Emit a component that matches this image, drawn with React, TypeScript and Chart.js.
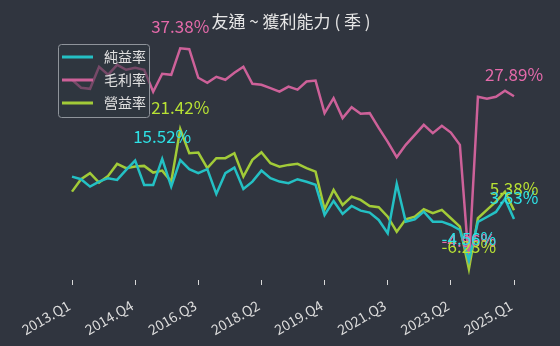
import React, { useEffect, useRef } from 'react';
import { Chart, registerables } from 'chart.js';

Chart.register(...registerables);

const chartTitle = '友通 ~ 獲利能力 ( 季 )';
const seriesNames = ['純益率', '毛利率', '營益率'];

const quarters = [
  '2013.Q1', '2013.Q2', '2013.Q3', '2013.Q4', '2014.Q1', '2014.Q2', '2014.Q3',
  '2014.Q4', '2015.Q1', '2015.Q2', '2015.Q3', '2015.Q4', '2016.Q1', '2016.Q2',
  '2016.Q3', '2016.Q4', '2017.Q1', '2017.Q2', '2017.Q3', '2017.Q4', '2018.Q1',
  '2018.Q2', '2018.Q3', '2018.Q4', '2019.Q1', '2019.Q2', '2019.Q3', '2019.Q3 ',
  '2019.Q4', '2020.Q1', '2020.Q2', '2020.Q3', '2020.Q4', '2021.Q1', '2021.Q2',
  '2021.Q3', '2021.Q4', '2022.Q1', '2022.Q2', '2022.Q3', '2022.Q4', '2023.Q1',
  '2023.Q2', '2023.Q3', '2023.Q4', '2024.Q1', '2024.Q2', '2024.Q3', '2024.Q4',
  '2025.Q1',
];

const netMargin = [
  12.03, 11.51, 10.05, 11.04, 11.71, 11.37, 13.35, 15.19, 10.38, 10.38,
  15.52, 10.05, 15.3, 13.49, 12.7, 13.49, 8.6, 12.7, 13.81, 9.59,
  11.04, 13.21, 11.71, 11.04, 10.72, 11.51, 11.0, 10.4, 4.45, 7.22,
  4.65, 6.23, 5.3, 4.91, 3.46, 0.83, 10.58, 3.12, 3.6, 5.1,
  3.12, 3.12, 2.47, 1.48, -4.56, 3.07, 4.05, 5.04, 7.62, 3.63,
];

const grossMargin = [
  31.15, 29.57, 29.37, 33.72, 32.14, 34.11, 33.13, 33.52, 33.13, 28.78,
  32.34, 32.14, 37.38, 37.2, 31.55, 30.56, 31.74, 31.15, 32.54, 33.72,
  30.36, 30.16, 29.5, 28.8, 29.8, 29.2, 30.8, 31.0, 24.56, 27.53,
  23.58, 25.75, 24.43, 24.56, 21.66, 18.9, 15.86, 18.3, 20.27, 22.25,
  20.61, 22.05, 20.73, 18.3, -4.96, 27.79, 27.39, 27.79, 28.98, 27.89,
];

const operatingMargin = [
  9.06, 11.51, 12.7, 10.84, 12.16, 14.54, 13.69, 14.0, 14.14, 12.82,
  13.21, 11.04, 21.42, 16.65, 16.77, 13.69, 15.66, 15.66, 16.65, 12.03,
  15.33, 16.85, 14.68, 14.0, 14.34, 14.54, 13.7, 13.0, 5.58, 9.39,
  6.43, 8.07, 7.42, 6.23, 5.97, 4.11, 1.15, 3.6, 4.11, 5.58,
  4.79, 5.44, 3.8, 2.14, -6.23, 3.8, 5.44, 7.08, 9.06, 5.38,
];

const labelEvery = 7;
const yMin = -8.4;
const yMax = 40;

export default function App() {
  const ref = useRef<HTMLCanvasElement>(null);

  useEffect(() => {
    const canvas = ref.current;
    if (!canvas) return;
    const font = '"Noto Sans CJK TC", "Noto Sans", sans-serif';
    const lineColors = ['#24c0c4', '#cd6199', '#a2cb38'];
    const textColors = ['#2ee2e6', '#e46aaa', '#b8e234'];
    const seriesData = [netMargin, grossMargin, operatingMargin];

    const overlay = {
      id: 'overlay',
      afterDatasetsDraw(chart: any) {
        const ctx = chart.ctx as CanvasRenderingContext2D;
        ctx.save();
        ctx.font = `17px ${font}`;
        ctx.textAlign = 'center';
        ctx.textBaseline = 'middle';
        for (const di of [1, 2, 0]) {
          const data = seriesData[di];
          const meta = chart.getDatasetMeta(di);
          let maxI = 0;
          let minI = 0;
          data.forEach((v, i) => {
            if (v > data[maxI]) maxI = i;
            if (v < data[minI]) minI = i;
          });
          ctx.fillStyle = textColors[di];
          for (const i of [maxI, minI, data.length - 1]) {
            const p = meta.data[i];
            ctx.fillText(data[i].toFixed(2) + '%', p.x, p.y - 22);
          }
        }
        ctx.restore();
      },
      afterDraw(chart: any) {
        const ctx = chart.ctx as CanvasRenderingContext2D;
        ctx.save();
        // title
        ctx.font = `17px ${font}`;
        ctx.fillStyle = '#e6e6e6';
        ctx.textAlign = 'center';
        ctx.textBaseline = 'middle';
        ctx.fillText(chartTitle, 291, 22);
        // legend
        ctx.beginPath();
        (ctx as any).roundRect(58.5, 44.5, 91, 73, 3);
        ctx.fillStyle = 'rgba(48,54,64,0.55)';
        ctx.fill();
        ctx.strokeStyle = '#8f949b';
        ctx.lineWidth = 1;
        ctx.stroke();
        ctx.font = `14px ${font}`;
        ctx.textAlign = 'left';
        seriesNames.forEach((name, i) => {
          const y = 57 + i * 23;
          ctx.strokeStyle = lineColors[i];
          ctx.lineWidth = 3;
          ctx.beginPath();
          ctx.moveTo(62, y);
          ctx.lineTo(93, y);
          ctx.stroke();
          ctx.fillStyle = '#e0e0e0';
          ctx.fillText(name, 104, y);
        });
        ctx.restore();
      },
    };

    const chart = new Chart(canvas, {
      type: 'line',
      data: {
        labels: quarters,
        datasets: seriesNames.map((name, i) => ({
          label: name,
          data: seriesData[i],
          borderColor: lineColors[i],
          backgroundColor: lineColors[i],
          borderWidth: 2.5,
          pointRadius: 0,
          fill: false,
          tension: 0,
        })),
      },
      options: {
        animation: false,
        responsive: true,
        maintainAspectRatio: false,
        layout: { padding: { left: 72, right: 46, top: 35, bottom: 0 } },
        plugins: {
          legend: { display: false },
          title: { display: false },
          tooltip: { enabled: false },
        },
        scales: {
          x: {
            type: 'category',
            offset: false,
            grid: {
              drawOnChartArea: false,
              drawTicks: true,
              tickLength: 5,
              tickWidth: 1,
              tickColor: (c: any) => (c.index % labelEvery === 0 ? '#d8d8d8' : 'rgba(0,0,0,0)'),
            },
            border: { display: false },
            ticks: {
              autoSkip: false,
              maxRotation: 30,
              minRotation: 30,
              color: '#dcdcdc',
              font: { family: font, size: 14 },
              padding: 12,
              labelOffset: -3,
              callback: (_v: any, i: number) => (i % labelEvery === 0 ? quarters[i] : ''),
            },
            afterFit: (s: any) => {
              s.height = 66;
            },
          },
          y: { display: false, min: yMin, max: yMax },
        },
      },
      plugins: [overlay],
    });

    return () => chart.destroy();
  }, []);

  return (
    <div
      style={{
        position: 'absolute',
        left: 0,
        top: 0,
        width: 560,
        height: 346,
        background: '#30353f',
      }}
    >
      <canvas ref={ref} />
    </div>
  );
}
